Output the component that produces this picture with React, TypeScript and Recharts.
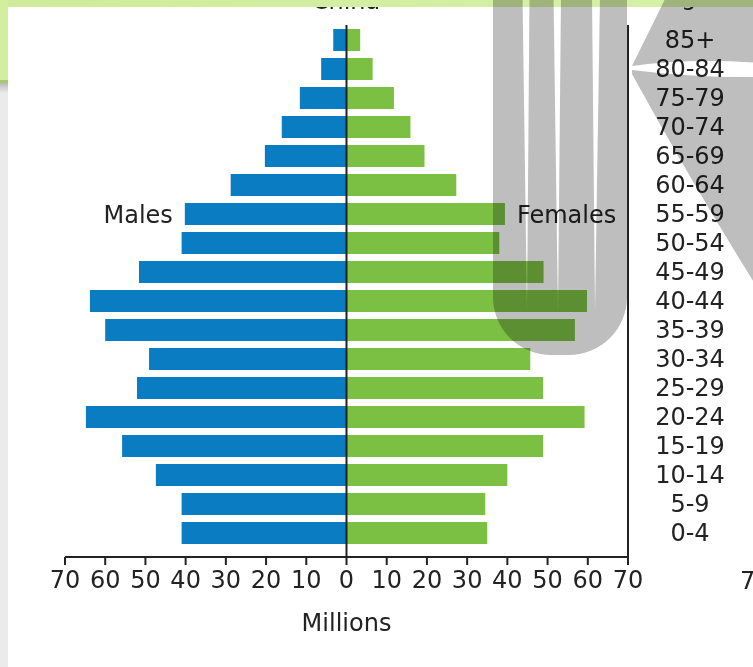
import { Bar, BarChart, LabelList, ReferenceLine, XAxis, YAxis } from "recharts";

const ageGroups = [
  "85+", "80-84", "75-79", "70-74", "65-69", "60-64", "55-59", "50-54", "45-49",
  "40-44", "35-39", "30-34", "25-29", "20-24", "15-19", "10-14", "5-9", "0-4",
];
// millions
const males = [3.3, 6.3, 11.6, 16.1, 20.3, 28.8, 40.2, 41, 51.6, 63.8, 60, 49.1, 52.1, 64.8, 55.8, 47.4, 41, 41];
const females = [3.4, 6.5, 11.8, 15.9, 19.4, 27.3, 39.4, 38, 49, 59.8, 56.8, 45.7, 48.9, 59.2, 48.9, 40, 34.5, 35];
const xTicks = [-70, -60, -50, -40, -30, -20, -10, 0, 10, 20, 30, 40, 50, 60, 70];
const labelRow = "55-59";

const data = ageGroups.map((age, i) => ({ age, male: -males[i], female: females[i] }));

const FONT = "'DejaVu Sans', Verdana, sans-serif";
const INK = "#222";

function AgeTick(props: any) {
  const { y, payload } = props;
  return (
    <text x={690} y={y} dy="0.36em" textAnchor="middle" fontSize={24} fontFamily={FONT} fill={INK}>
      {payload.value}
    </text>
  );
}

const sideLabel = (text: string, side: "left" | "right") => (props: any) => {
  const { x, y, width, height, index } = props;
  if (ageGroups[index] !== labelRow) return null;
  const left = Math.min(x, x + width);
  const right = Math.max(x, x + width);
  return (
    <text
      x={side === "left" ? left - 12 : right + 12}
      y={y + height / 2}
      dy="0.36em"
      textAnchor={side === "left" ? "end" : "start"}
      fontSize={24}
      fontFamily={FONT}
      fill={INK}
    >
      {text}
    </text>
  );
};

export default function App() {
  return (
    <div
      style={{
        position: "absolute",
        left: 0,
        top: 0,
        width: 753,
        height: 667,
        overflow: "hidden",
        background: "#fff",
      }}
    >
      <BarChart
        width={753}
        height={667}
        data={data}
        layout="vertical"
        stackOffset="sign"
        margin={{ top: 25, right: 5, bottom: 30, left: 65 }}
      >
        <XAxis
          type="number"
          domain={[-70, 70]}
          ticks={xTicks}
          interval={0}
          tickFormatter={(v) => String(Math.abs(v))}
          tick={{ fontSize: 24, fill: INK, fontFamily: FONT }}
          tickLine={{ stroke: INK, strokeWidth: 2 }}
          axisLine={{ stroke: INK, strokeWidth: 2 }}
          tickSize={8}
          tickMargin={6}
          height={80}
          label={{ value: "Millions", position: "insideBottom", offset: 6, fontSize: 24, fill: INK, fontFamily: FONT }}
        />
        <YAxis
          type="category"
          dataKey="age"
          orientation="right"
          width={120}
          interval={0}
          axisLine={{ stroke: INK, strokeWidth: 2 }}
          tickLine={false}
          tick={<AgeTick />}
          padding={{ top: 0, bottom: 10 }}
        />
        <ReferenceLine x={0} stroke={INK} strokeWidth={2} />
        <Bar dataKey="male" stackId="pop" fill="#0a7cc2" barSize={22} isAnimationActive={false}>
          <LabelList dataKey="male" content={sideLabel("Males", "left")} />
        </Bar>
        <Bar dataKey="female" stackId="pop" fill="#7bc043" barSize={22} isAnimationActive={false}>
          <LabelList dataKey="female" content={sideLabel("Females", "right")} />
        </Bar>
      </BarChart>

      {/* cropped page chrome around the chart */}
      <svg width={753} height={667} style={{ position: "absolute", left: 0, top: 0 }}>
        <defs>
          <linearGradient id="band" x1="0" y1="0" x2="1" y2="0">
            <stop offset="0" stopColor="#cfeb9a" />
            <stop offset="1" stopColor="#d7f2a8" />
          </linearGradient>
          <linearGradient id="edge" x1="0" y1="0" x2="0" y2="1">
            <stop offset="0" stopColor="#b9b9b9" />
            <stop offset="1" stopColor="#ebebeb" />
          </linearGradient>
        </defs>
        <text x={346} y={9} textAnchor="middle" fontSize={24} fontFamily={FONT} fill={INK}>China</text>
        <text x={688} y={5} textAnchor="middle" fontSize={24} fontFamily={FONT} fill={INK}>Age</text>
        <text x={740} y={589} fontSize={24} fontFamily={FONT} fill={INK}>70</text>
        <rect x={0} y={83} width={8} height={584} fill="#ebebeb" />
        <rect x={0} y={83} width={8} height={10} fill="url(#edge)" />
        <rect x={0} y={0} width={753} height={7} fill="url(#band)" />
        <rect x={0} y={0} width={8} height={83} fill="#d3ef9e" />
        <rect x={0} y={80} width={8} height={3} fill="#a9c96e" />
      </svg>

      <svg
        width={753}
        height={667}
        style={{ position: "absolute", left: 0, top: 0, mixBlendMode: "multiply", pointerEvents: "none" }}
      >
        <path
          fillRule="evenodd"
          fill="#bebebe"
          d="M493,-5 L493,297 A58,58 0 0 0 551,355 L569,355 A58,58 0 0 0 627,297 L627,-5 Z
             M522.5,-5 L529.5,-5 L527,312 Z
             M553.5,-5 L561,-5 L558,313 Z
             M592,-5 L600,-5 L595,312 Z"
        />
        <path fill="#bebebe" d="M667,-5 L632,66 Q690,58 760,63 L760,-5 Z" />
        <path fill="#bebebe" d="M632,70 Q695,78 760,77 L760,292 Q690,180 632,74 Z" />
      </svg>
    </div>
  );
}
